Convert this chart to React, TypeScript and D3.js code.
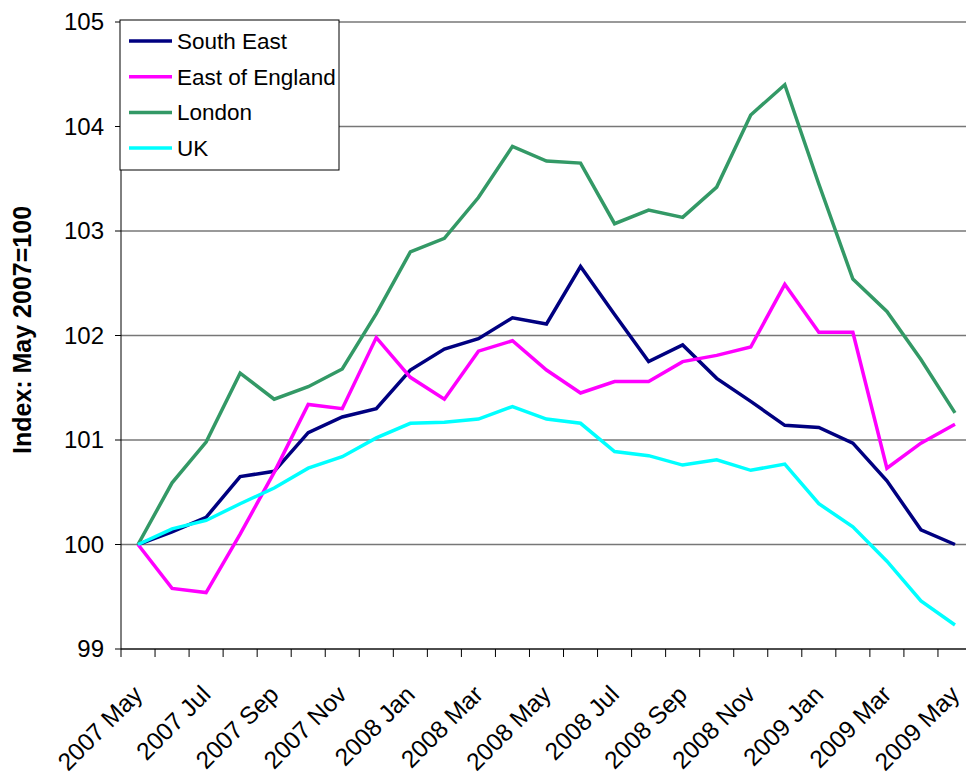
import React from "react";
import * as d3 from "d3";

// monthly categories, May 2007 - May 2009
const months = [
  "2007 May", "2007 Jun", "2007 Jul", "2007 Aug", "2007 Sep", "2007 Oct", "2007 Nov", "2007 Dec",
  "2008 Jan", "2008 Feb", "2008 Mar", "2008 Apr", "2008 May", "2008 Jun", "2008 Jul", "2008 Aug",
  "2008 Sep", "2008 Oct", "2008 Nov", "2008 Dec", "2009 Jan", "2009 Feb", "2009 Mar", "2009 Apr",
  "2009 May",
];

const southEast = [
  100, 100.12, 100.26, 100.65, 100.7, 101.07, 101.22, 101.3, 101.67, 101.87, 101.97, 102.17,
  102.11, 102.66, 102.2, 101.75, 101.91, 101.59, 101.37, 101.14, 101.12, 100.97, 100.61, 100.14, 100.0,
];
const eastOfEngland = [
  100, 99.58, 99.54, 100.1, 100.69, 101.34, 101.3, 101.98, 101.6, 101.39, 101.85, 101.95,
  101.67, 101.45, 101.56, 101.56, 101.75, 101.81, 101.89, 102.49, 102.03, 102.03, 100.73, 100.97, 101.15,
];
const london = [
  100, 100.59, 100.98, 101.64, 101.39, 101.51, 101.68, 102.21, 102.8, 102.93, 103.32, 103.81,
  103.67, 103.65, 103.07, 103.2, 103.13, 103.42, 104.11, 104.4, 103.45, 102.54, 102.23, 101.77, 101.26,
];
const uk = [
  100, 100.15, 100.23, 100.39, 100.54, 100.73, 100.84, 101.02, 101.16, 101.17, 101.2, 101.32,
  101.2, 101.16, 100.89, 100.85, 100.76, 100.81, 100.71, 100.77, 100.39, 100.17, 99.84, 99.46, 99.23,
];

const seriesNames = ["South East", "East of England", "London", "UK"];
const seriesColors = ["#000080", "#FF00FF", "#339966", "#00FFFF"];
const yTicks = [99, 100, 101, 102, 103, 104, 105];

const W = 966;
const H = 779;
const left = 121;
const right = 972;
const top = 22;
const bottom = 649;
const font = "'Liberation Sans', Arial, sans-serif";

export default function App() {
  const data = [southEast, eastOfEngland, london, uk];
  const x = d3.scaleBand().domain(months).range([left, right]).padding(0);
  const bw = x.bandwidth();
  const cx = (m: string) => (x(m) as number) + bw / 2;
  const y = d3.scaleLinear().domain([99, 105]).range([bottom, top]);
  const line = d3
    .line<number>()
    .x((d, i) => cx(months[i]))
    .y((d) => y(d));

  return (
    <svg width={W} height={H} style={{ position: "absolute", left: 0, top: 0, background: "#fff" }}>
      {/* gridlines */}
      {yTicks.map((t) => (
        <line key={"g" + t} x1={left} x2={right} y1={y(t)} y2={y(t)} stroke="#777" strokeWidth={1.3} />
      ))}
      {/* y axis */}
      <line x1={left} x2={left} y1={top} y2={bottom} stroke="#000" strokeWidth={1} />
      {yTicks.map((t) => (
        <g key={"yt" + t}>
          <line x1={left - 6} x2={left} y1={y(t)} y2={y(t)} stroke="#000" />
          <text x={104} y={y(t)} dy="0.35em" textAnchor="end" fontFamily={font} fontSize={24} fill="#000">
            {t}
          </text>
        </g>
      ))}
      {/* x axis */}
      <line x1={left} x2={right} y1={bottom} y2={bottom} stroke="#000" />
      {months.map((m, i) => (
        <line key={"xt" + i} x1={x(m)} x2={x(m)} y1={bottom} y2={bottom + 8} stroke="#000" />
      ))}
      {months.map((m, i) =>
        i % 2 === 0 ? (
          <text
            key={"xl" + i}
            transform={`translate(${cx(m) + 6},${696}) rotate(-45)`}
            textAnchor="end"
            fontFamily={font}
            fontSize={24.5}
            fill="#000"
          >
            {m}
          </text>
        ) : null
      )}
      {/* series */}
      {data.map((s, k) => (
        <path key={"s" + k} d={line(s) as string} fill="none" stroke={seriesColors[k]} strokeWidth={3.5} strokeLinejoin="miter" />
      ))}
      {/* y title */}
      <text
        transform={`translate(31,330) rotate(-90)`}
        textAnchor="middle"
        fontFamily={font}
        fontWeight="bold"
        fontSize={25}
        fill="#000"
      >
        Index: May 2007=100
      </text>
      {/* legend */}
      <rect x={120} y={20} width={219} height={150} fill="#fff" stroke="#000" strokeWidth={1} />
      {seriesNames.map((n, k) => (
        <g key={"lg" + k}>
          <line x1={129} x2={172} y1={41 + k * 35.7} y2={41 + k * 35.7} stroke={seriesColors[k]} strokeWidth={3.5} />
          <text x={177} y={41 + k * 35.7} dy="0.35em" fontFamily={font} fontSize={22.5} fill="#000">
            {n}
          </text>
        </g>
      ))}
    </svg>
  );
}
